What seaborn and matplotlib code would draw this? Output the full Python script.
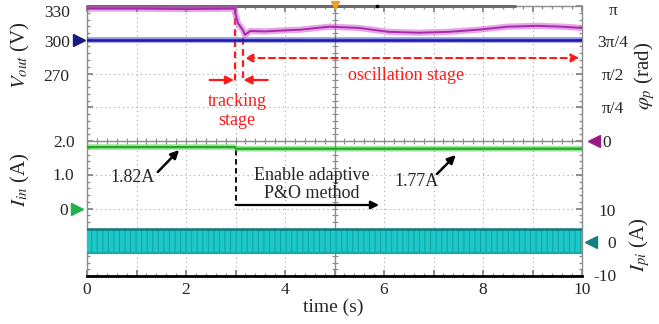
import matplotlib
matplotlib.use("Agg")
import matplotlib.pyplot as plt
import seaborn as sns
import numpy as np
import pandas as pd

sns.set_theme(style="white")
plt.rcParams["font.family"] = ["Liberation Serif", "DejaVu Serif"]
plt.rcParams["mathtext.fontset"] = "stix"
plt.rcParams["hatch.linewidth"] = 0.7

# ---- traces (time in s) ----
t_vout = [0.0, 10.0]
vout = [300.0, 300.0]

t_phi = [0.0, 1.0, 2.0, 2.98, 3.0, 3.05, 3.1, 3.15, 3.19, 3.3, 3.6, 3.9,
         4.3, 4.9, 5.5, 6.1, 6.7, 7.3, 7.9, 8.5, 9.1, 9.6, 10.0]
phi = [3.08, 3.08, 3.07, 3.08, 2.95, 2.74, 2.66, 2.58, 2.47, 2.56, 2.55, 2.57,
       2.59, 2.66, 2.63, 2.54, 2.52, 2.54, 2.59, 2.66, 2.68, 2.66, 2.63]

t_iin = [0.0, 2.99, 3.01, 10.0]
iin = [1.82, 1.82, 1.77, 1.77]

t_ipi = [0.0, 10.0]
ipi_upper = [3.9, 3.9]
ipi_lower = [-3.2, -3.2]

# ---- axis scales (8 vertical divisions) ----
vout_lim = (90, 330)
phi_lim = (-np.pi, np.pi)
iin_lim = (-2, 6)
ipi_lim = (-10, 70)

vout_ticklabels = ["330", "300", "270"]
phi_ticklabels = ["π", "3π/4", "π/2", "π/4", "0"]
iin_ticklabels = ["2.0", "1.0", "0"]
ipi_ticklabels = ["10", "0", "-10"]
time_ticks = [0, 2, 4, 6, 8, 10]

W, H = 659, 324
fig = plt.figure(figsize=(W / 100, H / 100), dpi=100)
pos = [87 / W, 1 - 276 / H, 495 / W, 270 / H]

# ---- graticule ----
base = fig.add_axes(pos)
base.set_xlim(0, 10)
base.set_ylim(0, 8)
base.set_xticks(range(11))
base.set_yticks(range(9))
base.set_xticks(np.arange(0, 10.01, 0.2), minor=True)
base.set_yticks(np.arange(0, 8.01, 0.2), minor=True)
base.grid(True, which="major", linestyle=(0, (1, 3)), color="#a8a8a8", lw=0.8)
base.tick_params(which="major", direction="in", length=4, color="#808080",
                 left=True, right=True, bottom=True, top=True,
                 labelleft=False, labelbottom=False)
base.tick_params(which="minor", direction="in", length=2.2, color="#909090",
                 left=True, right=True, bottom=True, top=True)
for s in ["left", "right", "top"]:
    base.spines[s].set_color("#8c8c8c")
    base.spines[s].set_linewidth(1.0)
base.spines["bottom"].set_color("black")
base.spines["bottom"].set_linewidth(2.0)
base.axvline(5, color="#8c8c8c", lw=1.0)
base.axhline(4, color="#8c8c8c", lw=1.0)
ys = np.arange(0, 8.01, 0.2)
base.scatter(np.full_like(ys, 5), ys, marker="_", s=14, color="#8c8c8c", lw=0.8, zorder=2)
xs = np.arange(0, 10.01, 0.2)
base.scatter(xs, np.full_like(xs, 4), marker="|", s=14, color="#8c8c8c", lw=0.8, zorder=2)
base.plot([0, 8.65], [8, 8], color="#6a6a6a", lw=2.2, clip_on=False, zorder=3)
base.plot([5], [8.02], marker="v", ms=6, color="#f0a020", clip_on=False, zorder=4)
base.plot([5.85], [8.0], marker="s", ms=2, color="black", clip_on=False, zorder=4)

def layer(lim):
    a = fig.add_axes(pos, sharex=base)
    a.set_ylim(*lim)
    a.axis("off")
    return a

ax_v = layer(vout_lim)
ax_p = layer(phi_lim)
ax_i = layer(iin_lim)
ax_c = layer(ipi_lim)

# ---- Ipi band ----
ax_c.fill_between(t_ipi, ipi_lower, ipi_upper, facecolor="#1cc8c8",
                  edgecolor="#13a0a0", hatch="|||", linewidth=0)
sns.lineplot(x=t_ipi, y=ipi_upper, ax=ax_c, color="#0c7a7a", lw=1.8,
             estimator=None, sort=False)
sns.lineplot(x=t_ipi, y=ipi_lower, ax=ax_c, color="#1aa8a8", lw=1.6,
             estimator=None, sort=False)

# ---- other traces ----
df_v = pd.DataFrame({"t": t_vout, "v": vout})
sns.lineplot(data=df_v, x="t", y="v", ax=ax_v, color="#3c3cd0", lw=4.0, alpha=0.55,
             estimator=None, sort=False)
sns.lineplot(data=df_v, x="t", y="v", ax=ax_v, color="#1a1aa8", lw=1.8,
             estimator=None, sort=False)

df_p = pd.DataFrame({"t": t_phi, "p": phi})
sns.lineplot(data=df_p, x="t", y="p", ax=ax_p, color="#cc50cc", lw=4.5, alpha=0.5,
             estimator=None, sort=False)
sns.lineplot(data=df_p, x="t", y="p", ax=ax_p, color="#a82aa8", lw=1.4,
             estimator=None, sort=False)

df_i = pd.DataFrame({"t": t_iin, "i": iin})
sns.lineplot(data=df_i, x="t", y="i", ax=ax_i, color="#40cc40", lw=4, alpha=0.55,
             estimator=None, sort=False)
sns.lineplot(data=df_i, x="t", y="i", ax=ax_i, color="#1fa81f", lw=1.5,
             estimator=None, sort=False)

for a in (ax_v, ax_p, ax_i, ax_c):
    if a.get_legend() is not None:
        a.get_legend().remove()


def dv(py):
    """pixel row -> grid division"""
    return (276 - py) / 33.75


# ---- scale labels ----
tfs = 12.5
ty = base.get_yaxis_transform()
for lab, py in zip(vout_ticklabels, [13, 43, 77]):
    base.text(-0.035, dv(py), lab, transform=ty, ha="right", va="center", fontsize=tfs)
tv = ax_v.get_yaxis_transform()
ax_v.plot([-0.016], [300], marker=">", ms=8, color="#1a1a80", transform=tv, clip_on=False)

for lab, py, xo in zip(iin_ticklabels, [143, 176, 211], [-0.024, -0.026, -0.038]):
    base.text(xo, dv(py), lab, transform=ty, ha="right", va="center", fontsize=tfs)
ti = ax_i.get_yaxis_transform()
ax_i.plot([-0.021], [0], marker=">", ms=8, color="#22b04a", transform=ti, clip_on=False)

for lab, py in zip(phi_ticklabels, [11, 43, 76, 109, 143]):
    if lab == "0":
        base.text(1.042, dv(py), lab, transform=ty, ha="left", va="center", fontsize=tfs)
    else:
        base.text(1.062, dv(py), lab, transform=ty, ha="center", va="center", fontsize=tfs)
tp = ax_p.get_yaxis_transform()
ax_p.plot([1.024], [0], marker="<", ms=8, color="#9a1a8a", transform=tp, clip_on=False)

for lab, py in zip(ipi_ticklabels, [212, 244, 277]):
    base.text(1.069, dv(py), lab, transform=ty, ha="right", va="center", fontsize=tfs)
tc = ax_c.get_yaxis_transform()
ax_c.plot([1.019], [0], marker="<", ms=8, color="#138080", transform=tc, clip_on=False)

for x in time_ticks:
    base.text(x, dv(290), f"{x}", ha="center", va="center", fontsize=tfs)

# ---- axis titles ----
afs = 15
fig.text(20 / W, 1 - 55 / H, r"$V_{out}$ (V)", rotation=90, ha="center", va="center", fontsize=afs)
fig.text(20 / W, 1 - 180 / H, r"$I_{in}$ (A)", rotation=90, ha="center", va="center", fontsize=afs)
fig.text(645 / W, 1 - 76 / H, r"$\varphi_p$ (rad)", rotation=90, ha="center", va="center", fontsize=afs)
fig.text(640 / W, 1 - 245 / H, r"$I_{pi}$ (A)", rotation=90, ha="center", va="center", fontsize=afs)
fig.text(333 / W, 1 - 307 / H, "time (s)", ha="center", va="center", fontsize=14)

# ---- annotations ----
red = "#ff1a1a"
afs2 = 13
arrow = dict(arrowstyle="-|>", lw=1.6, mutation_scale=12, shrinkA=0, shrinkB=0)

base.plot([2.98, 2.98], [dv(7), dv(82)], color=red, lw=1.6, ls=(0, (3, 2)))
base.plot([3.15, 3.15], [dv(38), dv(82)], color=red, lw=1.6, ls=(0, (3, 2)))
base.annotate("", xy=(2.97, dv(80)), xytext=(2.48, dv(80)), arrowprops=dict(arrow, color=red))
base.annotate("", xy=(3.16, dv(80)), xytext=(3.65, dv(80)), arrowprops=dict(arrow, color=red))
base.text(3.03, dv(101), "tracking", color=red, ha="center", va="center", fontsize=afs2)
base.text(3.03, dv(120), "stage", color=red, ha="center", va="center", fontsize=afs2)
base.annotate("", xy=(3.18, dv(58)), xytext=(9.95, dv(58)),
              arrowprops=dict(arrowstyle="<|-|>", color=red, lw=1.5, ls=(0, (3, 2)),
                              mutation_scale=12, shrinkA=0, shrinkB=0))
base.text(6.45, dv(75), "oscillation stage", color=red, ha="center", va="center", fontsize=afs2)

base.plot([3.0, 3.0], [dv(150), dv(205)], color="black", lw=1.3, ls=(0, (3, 2)))
base.annotate("", xy=(5.9, dv(205)), xytext=(3.0, dv(205)), arrowprops=dict(arrow, color="black"))
base.text(4.55, dv(175), "Enable adaptive", ha="center", va="center", fontsize=afs2)
base.text(4.55, dv(194), "P&O method", ha="center", va="center", fontsize=afs2)

base.text(0.93, dv(177), "1.82A", ha="center", va="center", fontsize=afs2)
base.annotate("", xy=(1.86, dv(150)), xytext=(1.43, dv(172)),
              arrowprops=dict(arrow, color="black", lw=1.8))
base.text(6.65, dv(182), "1.77A", ha="center", va="center", fontsize=afs2)
base.annotate("", xy=(7.45, dv(155)), xytext=(7.07, dv(174)),
              arrowprops=dict(arrow, color="black", lw=1.8))

fig.savefig("out.png", dpi=100)
